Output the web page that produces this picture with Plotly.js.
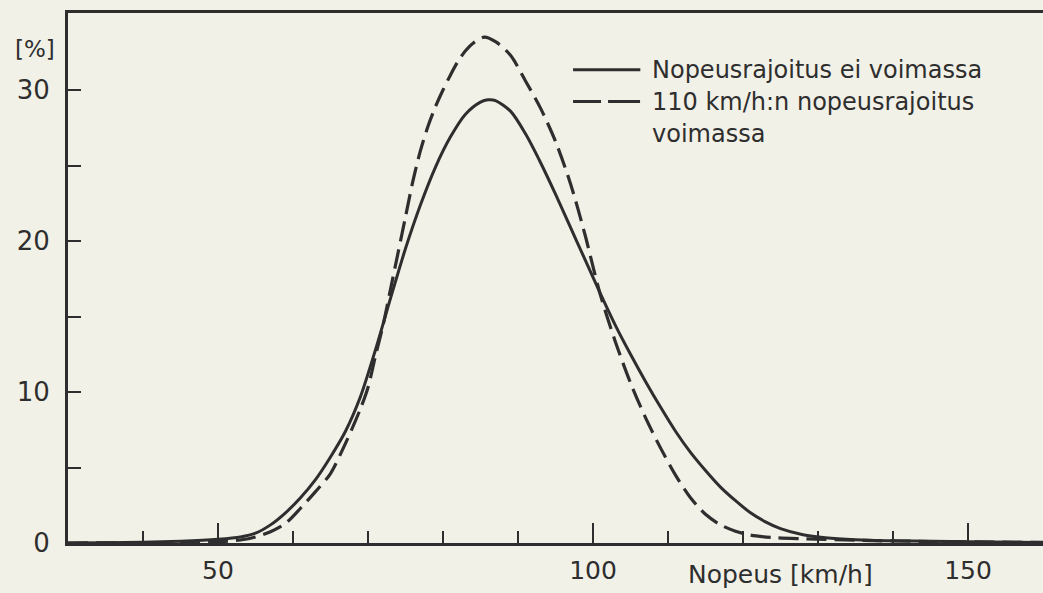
<!DOCTYPE html>
<html><head><meta charset="utf-8">
<script src="https://cdn.plot.ly/plotly-3.0.1.min.js"></script>
<style>html,body{margin:0;padding:0;background:#f2f1e7;}#chart{width:1043px;height:593px;}</style>
</head><body><div id="chart"></div>
<script>
// Speed distribution [km/h] vs share [%]
const speedNoLimit = [30,35,40,45,50,53,55,57,59,61,63,65,67,69,71,73,75,77,79,81,83,85,86,87,89,91,93,95,97,99,101,103,105,107,109,111,113,115,117,119,121,123,125,128,131,135,140,150,160];
const shareNoLimit = [0.0,0.02,0.05,0.12,0.25,0.4,0.65,1.2,2.0,3.0,4.2,5.7,7.4,9.7,12.8,16.2,19.5,22.4,24.9,26.9,28.4,29.2,29.35,29.3,28.6,27.1,25.2,23.1,20.9,18.7,16.5,14.4,12.5,10.7,9.0,7.4,6.0,4.8,3.7,2.8,2.0,1.4,0.95,0.55,0.35,0.22,0.15,0.08,0.04];
const speedLimit110 = [30,40,45,50,53,55,57,59,61,63,65,67,69,70,71,72,73,74,75,76,77,78,79,80,81,82,83,84,85.5,87,89,91,93,95,97,99,100,101,103,105,107,109,111,113,115,117,119,121,124,128,135,145,160];
const shareLimit110 = [0.0,0.01,0.03,0.08,0.2,0.4,0.75,1.3,2.3,3.4,4.6,6.6,8.9,10.3,12.4,14.4,16.8,19.2,21.6,24.0,26.0,27.6,28.9,30.0,31.0,31.9,32.6,33.1,33.5,33.2,32.3,30.6,28.8,26.6,23.8,20.3,18.3,16.4,13.3,10.6,8.3,6.3,4.5,3.0,1.9,1.2,0.78,0.52,0.36,0.28,0.18,0.1,0.04];

const seriesNames = ['Nopeusrajoitus ei voimassa', '110 km/h:n nopeusrajoitus', 'voimassa'];
const yTickVals = [0,5,10,15,20,25,30];
const yTickText = ['0','','10','','20','','30'];
const xTickVals = [50,100,150];
const xTickText = ['50','100','150'];
const xTitle = 'Nopeus [km/h]';
const yTitle = '[%]';

const ink = '#2e2e2e';
const bg = '#f2f1e7';
const fontFam = 'DejaVu Sans, Noto Sans, sans-serif';

const traces = [
  {x: speedNoLimit, y: shareNoLimit, type: 'scatter', mode: 'lines', name: seriesNames[0],
   line: {color: ink, width: 3, shape: 'spline', smoothing: 0.8}, hoverinfo: 'x+y'},
  {x: speedLimit110, y: shareLimit110, type: 'scatter', mode: 'lines', name: seriesNames[1] + ' ' + seriesNames[2],
   line: {color: ink, width: 3.2, dash: '20px,8px', shape: 'spline', smoothing: 0.8}, hoverinfo: 'x+y'}
];

const layout = {
  width: 1043, height: 593,
  margin: {l: 68, r: 0, t: 13, b: 50, pad: 0},
  paper_bgcolor: bg, plot_bgcolor: bg,
  showlegend: false,
  font: {family: fontFam, color: ink, size: 25},
  xaxis: {
    range: [30, 160], showgrid: false, zeroline: false,
    showline: true, linecolor: ink, linewidth: 3, mirror: true,
    tickmode: 'array', tickvals: xTickVals, ticktext: xTickText,
    ticks: 'inside', ticklen: 20, tickwidth: 2, tickcolor: ink,
    ticklabelstandoff: 3,
    minor: {dtick: 10, tick0: 0, ticks: 'inside', ticklen: 12, tickwidth: 2, tickcolor: ink, showgrid: false},
    tickfont: {family: fontFam, size: 25, color: ink}
  },
  yaxis: {
    range: [0, 35.1], showgrid: false, zeroline: false,
    showline: true, linecolor: ink, linewidth: 3,
    tickmode: 'array', tickvals: yTickVals, ticktext: yTickText,
    ticks: 'inside', ticklen: 13, tickwidth: 2, tickcolor: ink,
    ticklabelstandoff: 10,
    tickfont: {family: fontFam, size: 26, color: ink}
  },
  shapes: [
    {type: 'line', xref: 'paper', yref: 'paper', x0: 0.518, x1: 0.587, y0: 0.893, y1: 0.893,
     line: {color: ink, width: 3}},
    {type: 'line', xref: 'paper', yref: 'paper', x0: 0.518, x1: 0.587, y0: 0.833, y1: 0.833,
     line: {color: ink, width: 3, dash: '28px,7px,32px'}}
  ],
  annotations: [
    {text: seriesNames[0], xref: 'paper', yref: 'paper', x: 0.597, y: 0.893, xanchor: 'left', yanchor: 'middle',
     showarrow: false, font: {family: fontFam, size: 24, color: ink}},
    {text: seriesNames[1], xref: 'paper', yref: 'paper', x: 0.597, y: 0.833, xanchor: 'left', yanchor: 'middle',
     showarrow: false, font: {family: fontFam, size: 24, color: ink}},
    {text: seriesNames[2], xref: 'paper', yref: 'paper', x: 0.597, y: 0.771, xanchor: 'left', yanchor: 'middle',
     showarrow: false, font: {family: fontFam, size: 24, color: ink}},
    {text: xTitle, xref: 'x', yref: 'paper', x: 125, y: 0, yshift: -31, xanchor: 'center', yanchor: 'middle',
     showarrow: false, font: {family: fontFam, size: 25, color: ink}},
    {text: yTitle, xref: 'paper', yref: 'paper', x: 0, y: 0.932, xshift: -33, xanchor: 'center', yanchor: 'middle',
     showarrow: false, font: {family: fontFam, size: 23, color: ink}}
  ]
};

Plotly.newPlot('chart', traces, layout, {displayModeBar: false, staticPlot: true});
</script>
</body></html>
